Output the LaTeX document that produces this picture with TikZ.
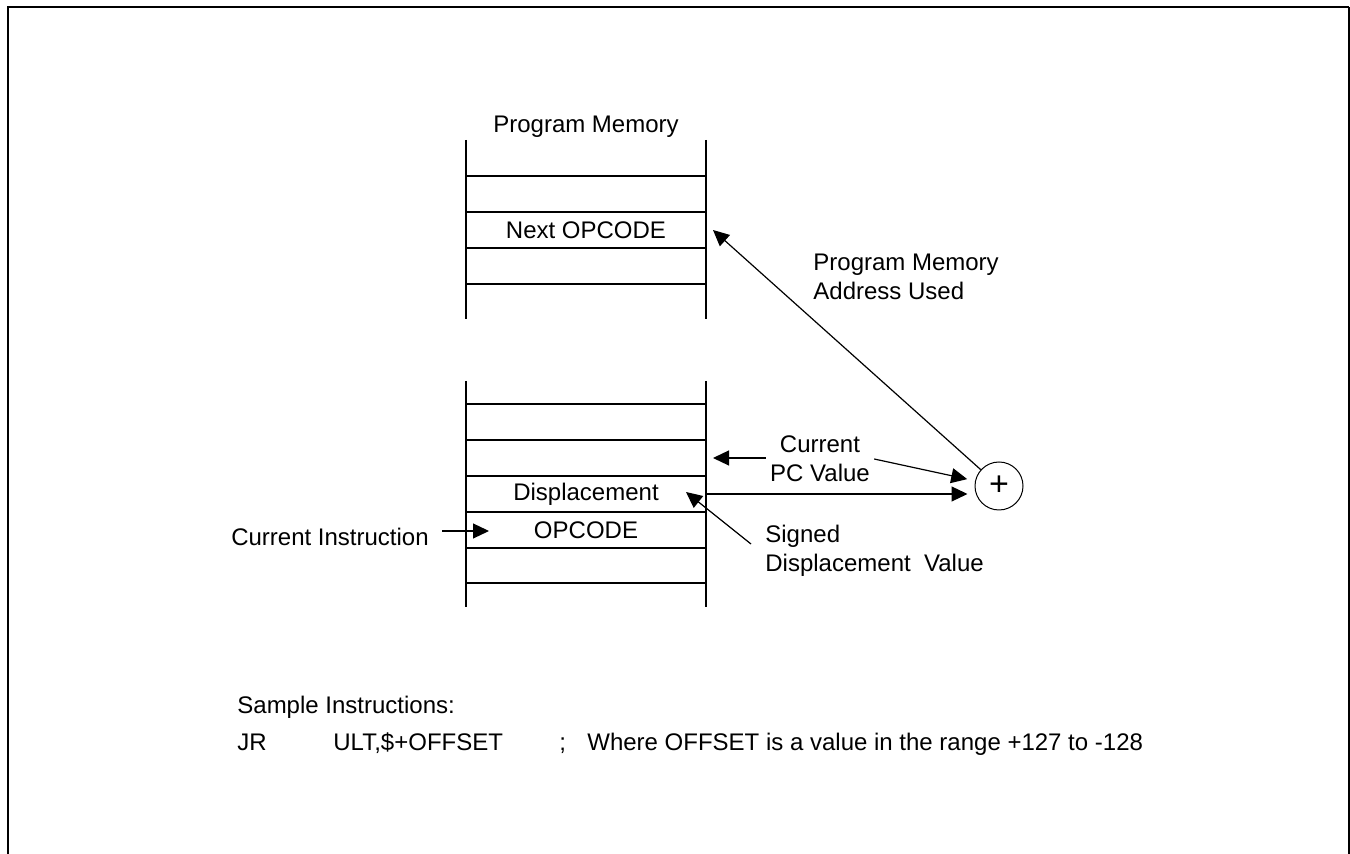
\documentclass[tikz,border=0pt]{standalone}
\usepackage{fontspec}
\setmainfont{Liberation Sans}
\usetikzlibrary{arrows.meta}
\begin{document}
\begin{tikzpicture}
        [x=0.5pt,y=-0.5pt,font=\fontsize{12}{14.4}\selectfont,
        memline/.style={line width=0.8pt},%
        arrowdecorate/.style={-{Triangle[length=8pt,width=7.5pt]},line width=0.6pt},%
        textdecorate/.style={inner sep=2pt}]
        \useasboundingbox (0,0) rectangle (1350,854);
        %% frame
        \draw[line width=1.1pt] (8,854) -- (8,7) -- (1349,7);
        \draw[line width=0.7pt] (1349,7) -- (1349,854);

        %% memory columns
        \foreach \top/\bottom in {140/319, 381/607}
        {
          \draw[memline] (466,\top) -- (466,\bottom);
          \draw[memline] (706,\top) -- (706,\bottom);
        }
        \foreach \y in {176,212,248,284,404,440,476,512,548,583}
          \draw[memline] (466,\y) -- (706,\y);

        %% nodes
        \node[textdecorate] (memtitle) at (586,127) {Program Memory};
        \node[textdecorate] (nextop) at (586,230) {Next OPCODE};
        \node[textdecorate] (disp) at (586,494) {Displacement};
        \node[textdecorate] (opcode) at (586,530) {OPCODE};
        \node[textdecorate] (curinstr) at (330,537) {Current Instruction};
        \node[textdecorate,align=center] (pcvalue) at (820,459) {Current\\PC Value};
        \node[textdecorate,align=left,anchor=west] (signeddisp) at (761,551) {Signed\\Displacement\ \ Value};
        \node[textdecorate,align=left,anchor=west] (addrused) at (809,277) {Program Memory\\Address Used};
        \node[circle,draw,line width=0.5pt,minimum size=24pt,inner sep=0pt,
          font=\fontsize{17}{17}\selectfont] (plus) at (999,486) {+};

        %% sample instructions
        \node[inner sep=0pt,anchor=base west] (sample) at (237,714) {Sample Instructions:};
        \foreach \nodename/\x/\txt in {jr/237/JR, operand/333/{ULT,\$+OFFSET},
          semi/559/;, remark/587/Where OFFSET is a value in the range +127 to -128}
        {
          \node[inner sep=0pt,anchor=base west] (\nodename) at (\x,751) {\txt};
        }

        %% free ends
        \coordinate (pctip) at (713,458);
        \coordinate (dispout) at (706,494);
        \coordinate (sdfoot) at (751,544);
        \coordinate (sdtip) at (686,492);
        \coordinate (addrtip) at (713,230);
        \coordinate (cistart) at (442,531);
        \coordinate (citip) at (489,531);

        %% arrows
        \draw[arrowdecorate] (pcvalue.west |- pctip) -- (pctip);
        \draw[arrowdecorate,shorten >=4pt] (pcvalue.east) -- (plus);
        \draw[arrowdecorate,shorten >=3.5pt] (dispout) -- (dispout -| plus.west);
        \draw[arrowdecorate] (sdfoot) -- (sdtip);
        \draw[arrowdecorate] (plus) -- (addrtip);
        \draw[arrowdecorate] (cistart) -- (citip);
      \end{tikzpicture}
\end{document}
